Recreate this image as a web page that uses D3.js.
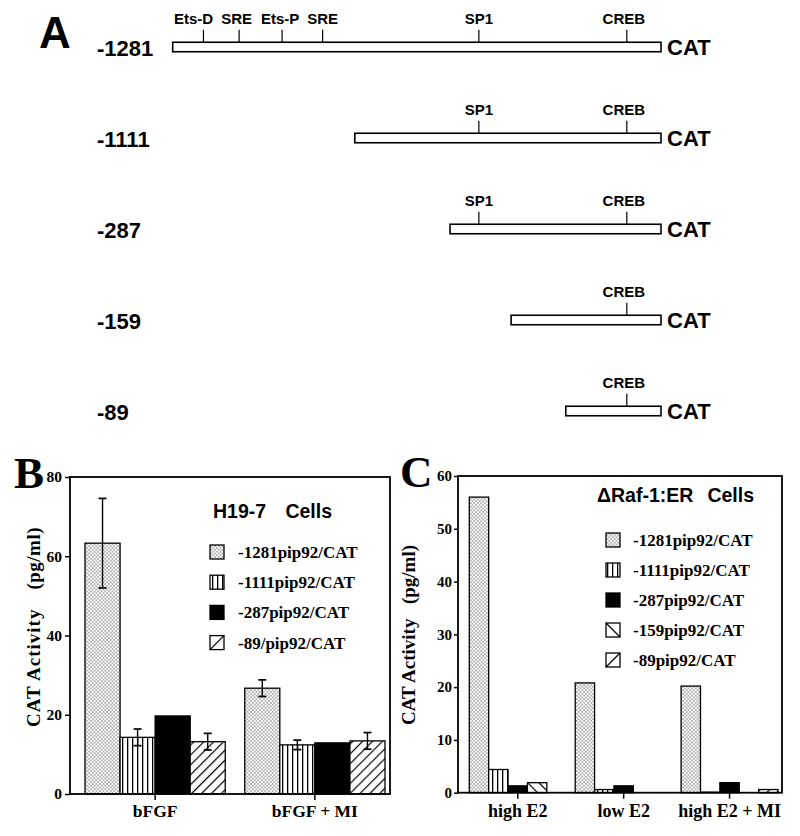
<!DOCTYPE html>
<html><head><meta charset="utf-8">
<script src="https://cdn.jsdelivr.net/npm/d3@7"></script>
<style>body{margin:0;background:#fff} svg{display:block}</style>
</head><body>
<svg id="fig" width="800" height="836"></svg>
<script>
// ---------- Panel A data (schematic map, % of the -1281 construct length) ----------
const constructs = ["-1281", "-1111", "-287", "-159", "-89"];
const constructStart = [0, 37.3, 56.8, 69.3, 80.5];
const siteNames = ["Ets-D", "SRE", "Ets-P", "SRE", "SP1", "CREB"];
const sitePos = [6.3, 13.6, 22.4, 30.7, 62.7, 93.0];

// ---------- Panel B data ----------
const bCategories = ["bFGF", "bFGF + MI"];
const bSeries = ["-1281pip92/CAT", "-1111pip92/CAT", "-287pip92/CAT", "-89/pip92/CAT"];
const bSeriesKey = ["-1281", "-1111", "-287", "-89"];
const bValues_bFGF = [63.3, 14.3, 19.7, 13.2];
const bErrors_bFGF = [11.3, 2.1, 0, 2.1];
const bValues_bFGF_MI = [26.7, 12.4, 12.9, 13.4];
const bErrors_bFGF_MI = [2.1, 1.2, 0, 2.1];
const bTicks = [0, 20, 40, 60, 80];

// ---------- Panel C data ----------
const cCategories = ["high E2", "low E2", "high E2 + MI"];
const cSeries = ["-1281pip92/CAT", "-1111pip92/CAT", "-287pip92/CAT", "-159pip92/CAT", "-89pip92/CAT"];
const cSeriesKey = ["-1281", "-1111", "-287", "-159", "-89"];
const cValues_highE2 = [56.0, 4.4, 1.3, 1.9, 0];
const cValues_lowE2 = [20.8, 0.6, 1.3, 0, 0];
const cValues_highE2_MI = [20.2, 0.1, 1.9, 0, 0.6];
const cTicks = [0, 10, 20, 30, 40, 50, 60];

// ---------- styles / layout ----------
const SANS = "'Liberation Sans', Arial, Helvetica, sans-serif";
const SERIF = "'Liberation Serif', 'Times New Roman', Times, serif";
const patternOf = {"-1281": "url(#p-dots)", "-1111": "url(#p-vstripe)", "-287": "#000", "-159": "url(#p-bdiag)", "-89": "url(#p-fdiag)"};
const siteLabelShift = [-10, -2.5, -2, 0, 0, -3];   // small horizontal label nudges (px)

const svg = d3.select("#fig");
const defs = svg.append("defs");

function makePattern(id, w, h, transform) {
  const p = defs.append("pattern").attr("id", id).attr("patternUnits", "userSpaceOnUse")
    .attr("width", w).attr("height", h);
  if (transform) p.attr("patternTransform", transform);
  p.append("rect").attr("width", w).attr("height", h).attr("fill", "#fff");
  return p;
}
{
  const p = makePattern("p-dots", 3.6, 3.6);
  p.append("circle").attr("cx", 0.9).attr("cy", 0.9).attr("r", 0.6).attr("fill", "#222");
  p.append("circle").attr("cx", 2.7).attr("cy", 2.7).attr("r", 0.6).attr("fill", "#222");
}
{
  const p = makePattern("p-vstripe", 5, 5);
  p.append("rect").attr("x", 2).attr("y", 0).attr("width", 1.3).attr("height", 5).attr("fill", "#000");
}
{
  const p = makePattern("p-fdiag", 7, 7, "rotate(45)");
  p.append("rect").attr("x", 3).attr("y", 0).attr("width", 1.2).attr("height", 7).attr("fill", "#000");
}
{
  const p = makePattern("p-bdiag", 8, 8, "rotate(-45)");
  p.append("rect").attr("x", 3).attr("y", 0).attr("width", 1.2).attr("height", 8).attr("fill", "#000");
}

// =================== PANEL A ===================
const ax = d3.scaleLinear().domain([0, 100]).range([172.7, 661]);
const ay = d3.scalePoint().domain(constructs).range([47, 411]);
const barH = 9.5;

const gA = svg.append("g");
gA.append("text").attr("x", 39).attr("y", 48).attr("font-family", SANS).attr("font-weight", "bold")
  .attr("font-size", 44).text("A");

constructs.forEach((c, i) => {
  const cy = ay(c);
  const top = cy - barH / 2;
  gA.append("text").attr("x", 97).attr("y", cy + 9).attr("font-family", SANS).attr("font-weight", "bold")
    .attr("font-size", 22).text(c);
  gA.append("rect").attr("x", ax(constructStart[i])).attr("y", top)
    .attr("width", ax(100) - ax(constructStart[i])).attr("height", barH)
    .attr("fill", "#fff").attr("stroke", "#000").attr("stroke-width", 1.6);
  gA.append("text").attr("x", ax(100) + 6).attr("y", cy + 8).attr("font-family", SANS).attr("font-weight", "bold")
    .attr("font-size", 22).text("CAT");
  siteNames.forEach((s, k) => {
    if (sitePos[k] <= constructStart[i]) return;
    const sx = ax(sitePos[k]);
    gA.append("line").attr("x1", sx).attr("x2", sx).attr("y1", top).attr("y2", top - 12.5)
      .attr("stroke", "#000").attr("stroke-width", 1.2);
    gA.append("text").attr("x", sx + siteLabelShift[k]).attr("y", top - 18).attr("text-anchor", "middle")
      .attr("font-family", SANS).attr("font-weight", "bold").attr("font-size", 15).text(s);
  });
});

// =================== helpers ===================
function legendSwatch(g, x, y, key) {
  const size = 14;
  const fill = patternOf[key];
  if (key === "-159" || key === "-89") {
    g.append("rect").attr("x", x).attr("y", y - size / 2).attr("width", size).attr("height", size)
      .attr("fill", "#fff").attr("stroke", "#000").attr("stroke-width", 1.3);
    if (key === "-89") g.append("line").attr("x1", x).attr("y1", y + size / 2).attr("x2", x + size).attr("y2", y - size / 2).attr("stroke", "#000").attr("stroke-width", 1.3);
    else g.append("line").attr("x1", x).attr("y1", y - size / 2).attr("x2", x + size).attr("y2", y + size / 2).attr("stroke", "#000").attr("stroke-width", 1.3);
  } else {
    g.append("rect").attr("x", x).attr("y", y - size / 2).attr("width", size).attr("height", size)
      .attr("fill", fill).attr("stroke", "#000").attr("stroke-width", 1.3);
  }
}

function drawPanel(opts) {
  const g = svg.append("g");
  const {x0, x1, y, cats, rows, keys, left, right, top, bottom, ticks, tickLen, tickPad, tickFont, xFont, xPad} = opts;
  cats.forEach((cat, ci) => {
    rows[ci].values.forEach((v, j) => {
      if (v <= 0) return;
      g.append("rect").attr("x", x0(cat) + x1(keys[j])).attr("y", y(v))
        .attr("width", x1.bandwidth()).attr("height", y(0) - y(v))
        .attr("fill", patternOf[keys[j]]).attr("stroke", "#000").attr("stroke-width", 1.3);
    });
  });
  cats.forEach((cat, ci) => {
    const errs = rows[ci].errors;
    if (!errs) return;
    rows[ci].values.forEach((v, j) => {
      const e = errs[j];
      if (!e) return;
      const cx = x0(cat) + x1(keys[j]) + x1.bandwidth() / 2;
      const cap = 4;
      g.append("line").attr("x1", cx).attr("x2", cx).attr("y1", y(v + e)).attr("y2", y(v - e)).attr("stroke", "#000").attr("stroke-width", 1.4);
      [v + e, v - e].forEach(t => g.append("line").attr("x1", cx - cap).attr("x2", cx + cap)
        .attr("y1", y(t)).attr("y2", y(t)).attr("stroke", "#000").attr("stroke-width", 1.7));
    });
  });
  g.append("rect").attr("x", left).attr("y", top).attr("width", right - left).attr("height", bottom - top)
    .attr("fill", "none").attr("stroke", "#000").attr("stroke-width", 1.8);
  const ya = g.append("g").attr("transform", `translate(${left},0)`)
    .call(d3.axisLeft(y).tickValues(ticks).tickSize(tickLen).tickSizeOuter(0).tickPadding(tickPad));
  ya.select(".domain").remove();
  ya.selectAll("line").attr("stroke-width", 1.5);
  ya.selectAll("text").attr("font-family", SERIF).attr("font-weight", "bold").attr("font-size", tickFont);
  const xa = g.append("g").attr("transform", `translate(0,${bottom})`)
    .call(d3.axisBottom(x0).tickSize(6).tickSizeOuter(0).tickPadding(xPad));
  xa.select(".domain").remove();
  xa.selectAll("line").attr("stroke-width", 1.5);
  xa.selectAll("text").attr("font-family", SERIF).attr("font-weight", "bold").attr("font-size", xFont);
  return g;
}

// =================== PANEL B ===================
{
  const x0 = d3.scaleBand().domain(bCategories).range([85, 385]).paddingInner(0.122);
  const x1 = d3.scaleBand().domain(bSeriesKey).range([0, x0.bandwidth()]);
  const y = d3.scaleLinear().domain([0, 80]).range([794, 477]);
  const rows = [
    {values: bValues_bFGF, errors: bErrors_bFGF},
    {values: bValues_bFGF_MI, errors: bErrors_bFGF_MI}
  ];
  const g = drawPanel({x0, x1, y, cats: bCategories, rows, keys: bSeriesKey, left: 70, right: 390, top: 477, bottom: 794,
    ticks: bTicks, tickLen: 5, tickPad: 3, tickFont: 15.5, xFont: 17.5, xPad: 5});
  g.append("text").attr("x", 14).attr("y", 488).attr("font-family", SERIF).attr("font-weight", "bold")
    .attr("font-size", 45).text("B");
  const yl = g.append("g").attr("transform", "translate(40,0) rotate(-90)");
  yl.append("text").attr("x", -727).attr("y", 0).attr("font-family", SERIF).attr("font-weight", "bold")
    .attr("font-size", 19).attr("letter-spacing", 1).text("CAT Activity");
  yl.append("text").attr("x", -527).attr("y", 0).attr("text-anchor", "end").attr("font-family", SERIF).attr("font-weight", "bold")
    .attr("font-size", 19).attr("letter-spacing", 0.5).text("(pg/ml)");
  g.append("text").attr("x", 213).attr("y", 518).attr("font-family", SANS).attr("font-weight", "bold").attr("font-size", 19.5).text("H19-7");
  g.append("text").attr("x", 332).attr("y", 518).attr("text-anchor", "end").attr("font-family", SANS).attr("font-weight", "bold").attr("font-size", 19.5).text("Cells");
  bSeries.forEach((s, i) => {
    const cy = 552 + i * 30.2;
    legendSwatch(g, 210, cy, bSeriesKey[i]);
    g.append("text").attr("x", 238).attr("y", cy + 6).attr("font-family", SERIF).attr("font-weight", "bold")
      .attr("font-size", 17).text(s);
  });
}

// =================== PANEL C ===================
{
  const x0 = d3.scaleBand().domain(cCategories).range([469.3, 778]).paddingInner(0.085);
  const x1 = d3.scaleBand().domain(cSeriesKey).range([0, x0.bandwidth()]);
  const y = d3.scaleLinear().domain([0, 60]).range([792.7, 476]);
  const rows = [
    {values: cValues_highE2},
    {values: cValues_lowE2},
    {values: cValues_highE2_MI}
  ];
  const g = drawPanel({x0, x1, y, cats: cCategories, rows, keys: cSeriesKey, left: 458, right: 782, top: 476, bottom: 792.7,
    ticks: cTicks, tickLen: 4, tickPad: 2, tickFont: 15, xFont: 18, xPad: 6});
  g.append("text").attr("x", 400).attr("y", 487).attr("font-family", SERIF).attr("font-weight", "bold")
    .attr("font-size", 45).text("C");
  const yl = g.append("g").attr("transform", "translate(415,0) rotate(-90)");
  yl.append("text").attr("x", -725).attr("y", 0).attr("font-family", SERIF).attr("font-weight", "bold")
    .attr("font-size", 19).text("CAT Activity");
  yl.append("text").attr("x", -545).attr("y", 0).attr("text-anchor", "end").attr("font-family", SERIF).attr("font-weight", "bold")
    .attr("font-size", 19).text("(pg/ml)");
  g.append("text").attr("x", 597).attr("y", 502).attr("font-family", SANS).attr("font-weight", "bold").attr("font-size", 19.5).text("\u0394Raf-1:ER");
  g.append("text").attr("x", 754).attr("y", 502).attr("text-anchor", "end").attr("font-family", SANS).attr("font-weight", "bold").attr("font-size", 19.5).text("Cells");
  cSeries.forEach((s, i) => {
    const cy = 540 + i * 30;
    legendSwatch(g, 606, cy, cSeriesKey[i]);
    g.append("text").attr("x", 633).attr("y", cy + 6).attr("font-family", SERIF).attr("font-weight", "bold")
      .attr("font-size", 17).text(s);
  });
}
</script>
</body></html>
